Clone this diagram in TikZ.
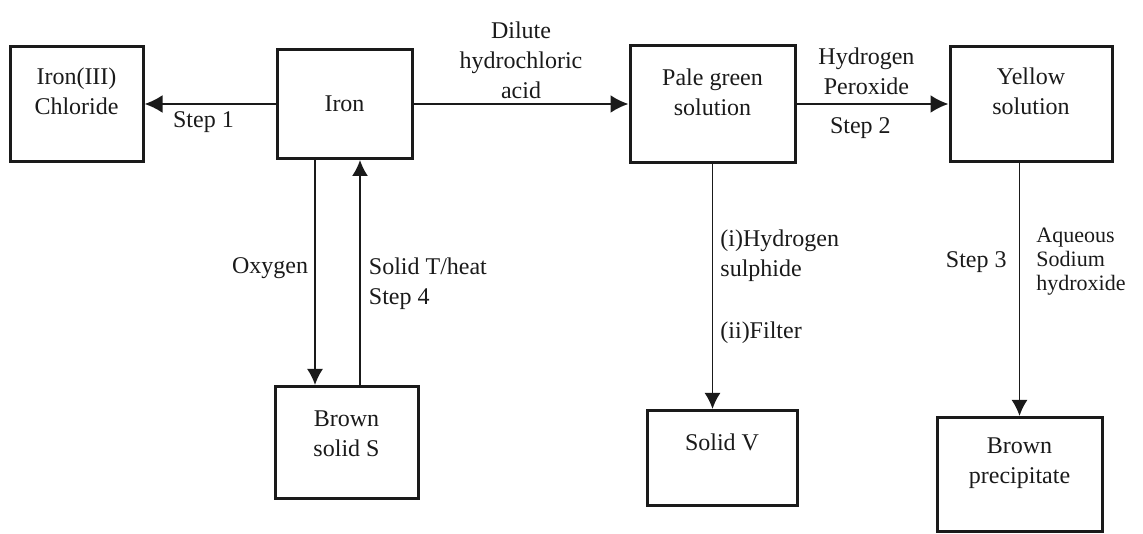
\documentclass[tikz,border=0pt]{standalone}
\usepackage{fontspec}
\setmainfont{Liberation Serif}
\usepackage{tikz}
\usetikzlibrary{
  arrows.meta,
  positioning,
  calc,
}
\definecolor{ink}{HTML}{1A1A1A}
\tikzset{
  chembox/.style={
    rectangle, draw=ink, line width=1.5pt, text=ink,
    inner sep=2pt, align=center, font=\fontsize{12}{15}\selectfont,
  },
  stepnote/.style={
    text=ink, inner sep=2pt, font=\fontsize{12}{15}\selectfont,
  },
  arrowRxn/.style={
    -{Latex[length=9pt,width=9pt]}, line width=1.2pt, draw=ink,
  },
  arrowDown/.style={
    -{Latex[length=8pt,width=8pt]}, line width=0.9pt, draw=ink,
  },
}

\begin{document}
\begin{tikzpicture}[x=0.5pt, y=0.5pt]
\useasboundingbox (0,0) rectangle (1143,534);

% top row
\node[chembox, minimum width=66.5pt, minimum height=57.5pt, text depth=13pt]
  (chl) at (76.5,430) {Iron(III)\\Chloride};
\node[chembox, right=65.5pt of chl, minimum width=67.5pt, minimum height=54.5pt]
  (iron) {Iron};
\node[chembox, right=107.5pt of iron, minimum width=82.5pt, minimum height=58.5pt,
  text depth=12pt] (pale) {Pale green\\solution};
\node[chembox, right=76pt of pale, minimum width=81pt, minimum height=57.5pt,
  text depth=13pt] (yel) {Yellow\\solution};

% products
\node[chembox, below=112.5pt of iron, xshift=1pt, minimum width=71.5pt,
  minimum height=56pt, text depth=9pt] (brs) {Brown\\solid S};
\node[chembox, below=122.5pt of pale, xshift=4.75pt, minimum width=75pt,
  minimum height=47.5pt, text depth=16pt] (solv) {Solid V};
\node[chembox, below=126.5pt of yel, xshift=-5.75pt, minimum width=82.5pt,
  minimum height=57pt, text depth=14pt] (ppt) {Brown\\precipitate};

\draw[arrowRxn] (iron.west) -- (chl.east)
  node[stepnote, below=1pt, pos=0.55] {Step 1};
\draw[arrowRxn] (iron.east) -- (pale.west)
  node[stepnote, above, pos=0.5, align=center] {Dilute\\hydrochloric\\acid};
\draw[arrowRxn] (pale.east) -- (yel.west)
  node[stepnote, above=2pt, pos=0.46, align=center] {Hydrogen\\Peroxide}
  node[stepnote, below=4pt, pos=0.42] {Step 2};

\coordinate (oxtop) at ($(iron.south)+(-29.5,0)$);
\coordinate (heattop) at ($(iron.south)+(15.5,0)$);

\draw[arrowDown] (oxtop) -- (oxtop |- brs.north)
  node[stepnote, left=1pt, pos=0.48] {Oxygen};
\draw[arrowDown] (heattop |- brs.north) -- (heattop)
  node[stepnote, right=2pt, pos=0.45, align=left] {Solid T/heat\\Step 4};
\draw[arrowDown] (pale.south) -- (pale.south |- solv.north)
  node[stepnote, right=1.5pt, pos=0.5, align=left]
  {(i)Hydrogen\\sulphide\\[16pt](ii)Filter};
\draw[arrowDown] (yel.south -| ppt.north) -- (ppt.north)
  node[stepnote, left=4pt, pos=0.39] {Step 3}
  node[stepnote, right=6pt, pos=0.39, align=left,
    font=\fontsize{11}{14}\selectfont]
  {Aqueous\\[-2pt]Sodium\\[-2pt]hydroxide};

\end{tikzpicture}
\end{document}
